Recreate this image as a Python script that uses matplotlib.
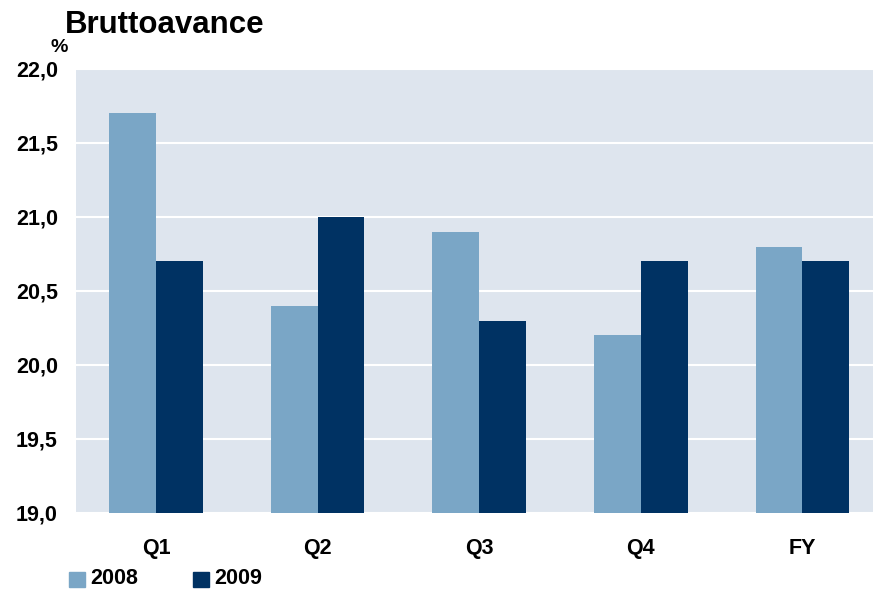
import numpy as np
import matplotlib
matplotlib.use("Agg")
import matplotlib.pyplot as plt
from matplotlib.patches import Rectangle

plt.rcParams['font.family'] = ['Liberation Sans', 'DejaVu Sans']

categories = ["Q1", "Q2", "Q3", "Q4", "FY"]
values_2008 = [21.7, 20.4, 20.9, 20.2, 20.8]
values_2009 = [20.7, 21.0, 20.3, 20.7, 20.7]
series_labels = ["2008", "2009"]
yticks = [19.0, 19.5, 20.0, 20.5, 21.0, 21.5, 22.0]

col_2008 = "#7aa6c6"
col_2009 = "#003263"
bg = "#dee5ee"

W, H = 873, 589
fig = plt.figure(figsize=(W / 100, H / 100), dpi=100)
ax = fig.add_axes([76 / W, (H - 513) / H, (873 - 76) / W, (513 - 69) / H])
ax.set_facecolor(bg)

x = np.arange(len(categories))
bw = 0.29
ax.bar(x - bw / 2, values_2008, bw, color=col_2008, zorder=3)
ax.bar(x + bw / 2, values_2009, bw, color=col_2009, zorder=3)

ax.set_ylim(19.0, 22.0)
ax.set_xlim(-0.495, 4.437)
ax.set_yticks(yticks)
ax.set_yticklabels([f"{v:.1f}".replace(".", ",") for v in yticks],
                   fontsize=15.5, fontweight="bold")
ax.set_xticks(x)
ax.set_xticklabels(categories, fontsize=15.5, fontweight="bold")
ax.tick_params(axis="both", length=0)
ax.tick_params(axis="y", pad=13)
ax.tick_params(axis="x", pad=18)
ax.grid(axis="y", color="white", linewidth=1.5, zorder=1)
ax.set_axisbelow(True)
for s in ax.spines.values():
    s.set_visible(False)

fig.text(65 / W, 1 - 25 / H, "Bruttoavance", fontsize=22.5, fontweight="bold",
         va="center", ha="left")
fig.text(59 / W, 1 - 48 / H, "%", fontsize=14, fontweight="bold",
         va="center", ha="center")

# legend
for i, (lab, col) in enumerate(zip(series_labels, [col_2008, col_2009])):
    x0 = 69 + i * 124
    fig.patches.append(Rectangle((x0 / W, 1 - 587 / H), 16 / W, 15 / H,
                                 transform=fig.transFigure, color=col))
    fig.text((x0 + 21) / W, 1 - 579 / H, lab, fontsize=15.5, fontweight="bold",
             va="center", ha="left")

fig.savefig("out.png", dpi=100)
